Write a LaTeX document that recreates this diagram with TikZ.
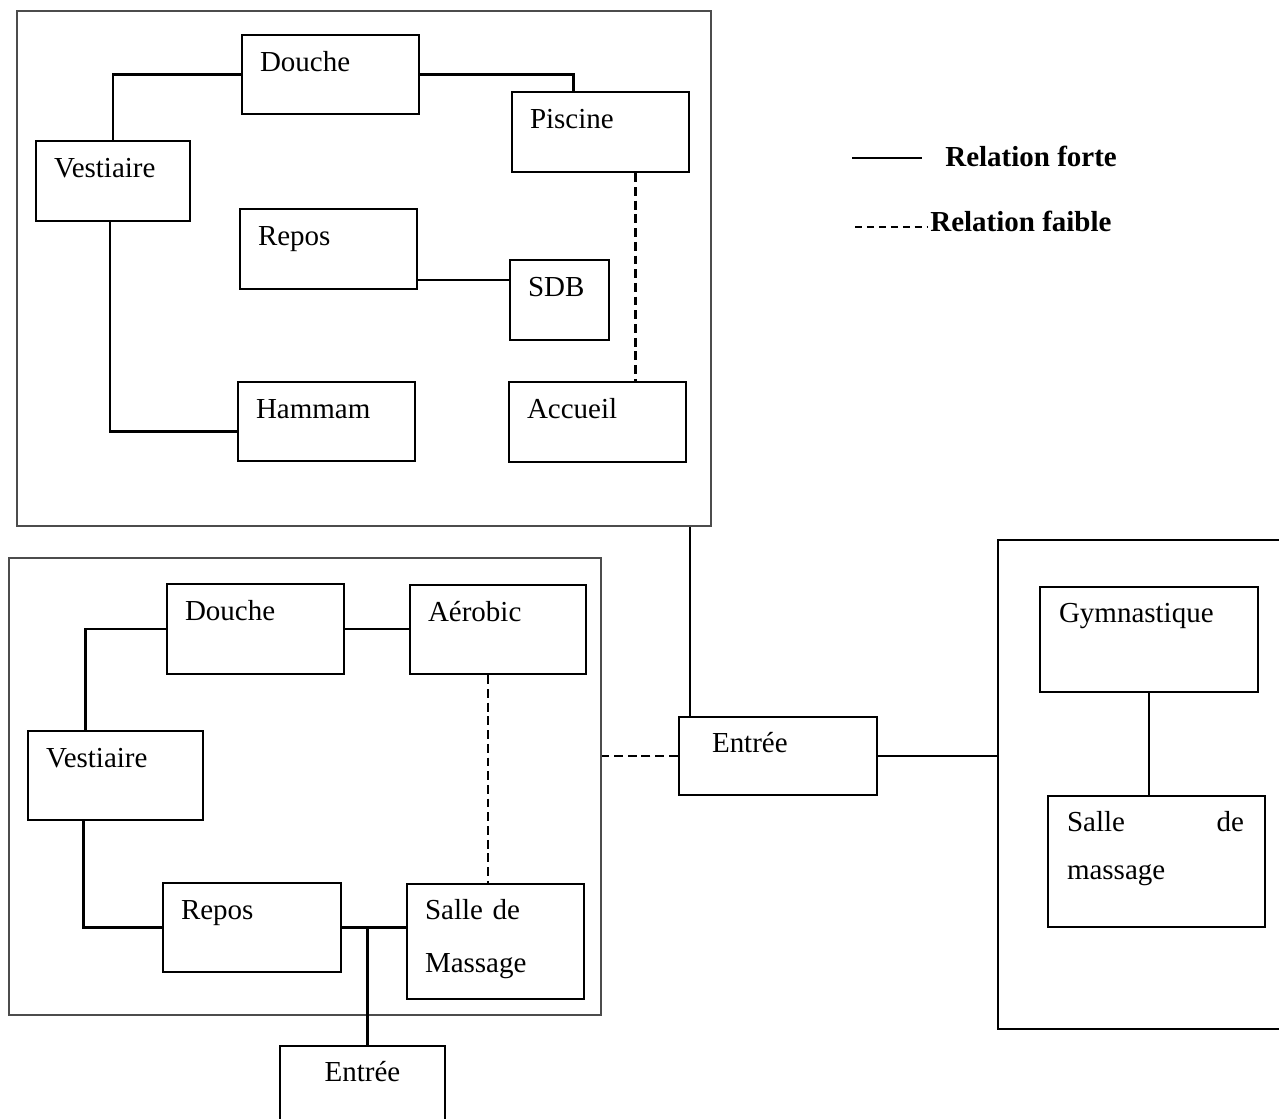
\documentclass[tikz,border=0pt]{standalone}
\usepackage{fontspec}
\setmainfont{Liberation Serif}
\usetikzlibrary{calc}
\usetikzlibrary{fit}

\begin{document}
\begin{tikzpicture}[x=0.02cm, y=-0.02cm,
  room/.style={draw, line width=1.5pt, inner sep=0pt},
  zone/.style={draw=black!70, line width=1pt, inner sep=0pt},
  link/.style={line width=1.3pt},
  weak/.style={line width=1.2pt, dash pattern=on 5pt off 2.8pt},
  legdash/.style={line width=1.2pt, dash pattern=on 4pt off 2.8pt},
  txt/.style={anchor=base west, inner sep=0pt, font=\fontsize{16.5}{20}\selectfont},
  legtxt/.style={txt, font=\fontsize{16.5}{20}\selectfont\bfseries}]

\path[use as bounding box, clip] (0,0) rectangle (1279,1119);

\node[zone, fit={(17,11) (711,526)}] (zoneA) {};
\node[zone, fit={(9,558) (601,1015)}] (zoneB) {};
\node[zone, draw=black, line width=1.3pt, fit={(998,540) (1300,1029)}] (zoneC) {};

\foreach \name/\xa/\ya/\xb/\yb in {douche1/242/35/419/114, piscine/512/92/689/172,
  vest1/36/141/190/221, repos1/240/209/417/289, sdb/510/260/609/340,
  hammam/238/382/415/461, accueil/509/382/686/462,
  douche2/167/584/344/674, aerobic/410/585/586/674, vest2/28/731/203/820,
  repos2/163/883/341/972, salle1/407/884/584/999, entree2/280/1046/445/1130,
  entree/679/717/877/795, gym/1040/587/1258/692, salle2/1048/796/1265/927}
  \node[room, fit={(\xa,\ya) (\xb,\yb)}] (\name) {};

\foreach \name/\txt in {douche1/Douche, piscine/Piscine, vest1/Vestiaire,
  repos1/Repos, sdb/SDB, hammam/Hammam, accueil/Accueil,
  douche2/Douche, aerobic/Aérobic, vest2/Vestiaire, repos2/Repos}
  \node[txt] (\name-t) at ($(\name.north west)+(19,38)$) {\txt};

\node[txt, align=left, text width=3cm, font=\fontsize{16.5}{30.2}\selectfont] (salle1-t) at ($(salle1.north west)+(19,37)$) {Salle de\\Massage};
\node[txt] (entree-t) at ($(entree.north west)+(34,37)$) {Entrée};
\node[txt, anchor=base] (entree2-t) at ($(entree2.north)+(0,37)$) {Entrée};
\node[txt] (gym-t) at ($(gym.north west)+(20,37)$) {Gymnastique};
\node[txt, align=left, text width=3.54cm, font=\fontsize{16.5}{27.3}\selectfont] (salle2-t) at ($(salle2.north west)+(20,37)$) {Salle\hfill de\\massage};

\draw[link] (vest1.north) |- (douche1.west);
\draw[link] (douche1.east) -| ($(piscine.north)+(-27,0)$);
\draw[link] ($(vest1.south)+(-3,0)$) |- ($(hammam.west)+(0,10)$);
\draw[link] ($(repos1.south east)+(0,-10)$) coordinate (rs) -- (rs -| sdb.west);
\draw[weak] ($(piscine.south)+(35,0)$) coordinate (pa) -- (pa |- accueil.north);

\draw[link] ($(vest2.north)+(-30,0)$) |- (douche2.west);
\draw[link] (douche2.east) -- (douche2.east -| aerobic.west);
\draw[link] ($(vest2.south)+(-32,0)$) |- (repos2.west);
\draw[link] (repos2.east) -- (repos2.east -| salle1.west);
\draw[link] ($(entree2.north)+(5,0)$) coordinate (ej) -- (ej |- repos2.east);
\draw[weak] ($(aerobic.south)+(-10,0)$) coordinate (am) -- (am |- salle1.north);

\draw[link] ($(entree.north west)+(12,0)$) coordinate (ez) -- (ez |- zoneA.south);
\draw[weak] (entree.west) -- (entree.west -| zoneB.east);
\draw[link] (entree.east) -- (entree.east -| zoneC.west);
\draw[link] (gym.south) -- (gym.south |- salle2.north);

\node[legtxt] (forte) at (945,166) {Relation forte};
\node[legtxt] (faible) at (930,231) {Relation faible};
\coordinate (forteA) at (852,158);
\coordinate (faibleA) at (855,227);
\draw[link] (forteA) -- ($(forte.west |- forteA)+(-23,0)$);
\draw[legdash] (faibleA) -- ($(faible.west |- faibleA)+(-3,0)$);

\end{tikzpicture}
\end{document}
